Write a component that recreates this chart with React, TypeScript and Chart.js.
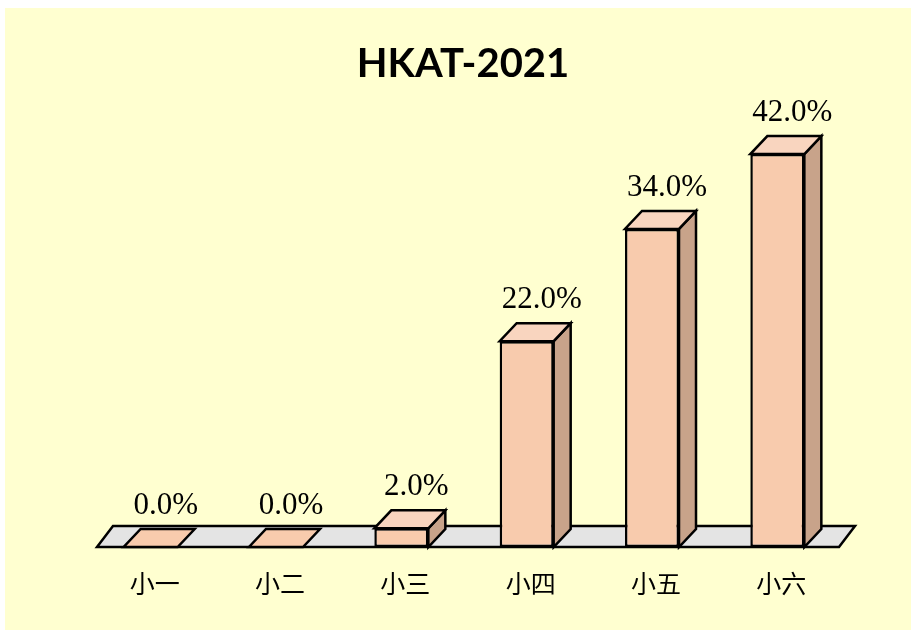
import React, { useEffect, useRef } from "react";
import { Chart, registerables } from "chart.js";

Chart.register(...registerables);

const categories = ["小一", "小二", "小三", "小四", "小五", "小六"];
const values = [0, 0, 2, 22, 34, 42];
const valueLabels = ["0.0%", "0.0%", "2.0%", "22.0%", "34.0%", "42.0%"];
const yMin = 0;
const yMax = 45;
const titleText = "HKAT-2021";

const BG = "#FFFFD0";
const FRONT = "#F8CBAD";
const TOP = "#F9D5BF";
const SIDE = "#C8A38A";
const FLOOR = "#E4E4E4";
const LINE = "#000000";
const DX = 17;
const DY = 18;
const FLOOR_DX = 16;
const FLOOR_DY = 21;

const W = 906;
const H = 622;

const threeD = {
  id: "threeD",
  beforeDraw(chart: any) {
    const ctx = chart.ctx;
    ctx.save();
    ctx.fillStyle = BG;
    ctx.fillRect(0, 0, chart.width, chart.height);
    ctx.restore();
  },
  beforeDatasetsDraw(chart: any) {
    const ctx = chart.ctx;
    const a = chart.chartArea;
    const base = chart.scales.y.getPixelForValue(0);
    const L = a.left + 9;
    const R = a.right - 1;
    ctx.save();
    ctx.beginPath();
    ctx.moveTo(L, base);
    ctx.lineTo(R, base);
    ctx.lineTo(R + FLOOR_DX, base - FLOOR_DY);
    ctx.lineTo(L + FLOOR_DX, base - FLOOR_DY);
    ctx.closePath();
    ctx.fillStyle = FLOOR;
    ctx.fill();
    ctx.lineWidth = 2.5;
    ctx.strokeStyle = LINE;
    ctx.lineJoin = "miter";
    ctx.stroke();
    ctx.restore();
  },
  afterDatasetsDraw(chart: any) {
    const ctx = chart.ctx;
    const meta = chart.getDatasetMeta(0);
    ctx.save();
    ctx.lineWidth = 2.5;
    ctx.strokeStyle = LINE;
    ctx.lineJoin = "miter";
    meta.data.forEach((bar: any, i: number) => {
      const { x, y, base, width } = bar.getProps(["x", "y", "base", "width"], true);
      const x1 = x - width / 2;
      const x2 = x + width / 2;
      // side face
      if (base - y > 0.5) {
        ctx.beginPath();
        ctx.moveTo(x2, y);
        ctx.lineTo(x2 + DX, y - DY);
        ctx.lineTo(x2 + DX, base - DY);
        ctx.lineTo(x2, base);
        ctx.closePath();
        ctx.fillStyle = SIDE;
        ctx.fill();
        ctx.stroke();
      }
      // top face
      ctx.beginPath();
      ctx.moveTo(x1, y);
      ctx.lineTo(x2, y);
      ctx.lineTo(x2 + DX, y - DY);
      ctx.lineTo(x1 + DX, y - DY);
      ctx.closePath();
      ctx.fillStyle = base - y > 0.5 ? TOP : FRONT;
      ctx.fill();
      ctx.stroke();
      // value label
      ctx.fillStyle = "#000";
      ctx.font = '31px "Liberation Serif", "Times New Roman", serif';
      ctx.textAlign = "center";
      ctx.textBaseline = "alphabetic";
      ctx.fillText(valueLabels[i], x + 15, y - DY - 15);
    });
    ctx.restore();
  },
  afterDraw(chart: any) {
    const ctx = chart.ctx;
    const xs = chart.scales.x;
    const base = chart.scales.y.getPixelForValue(0);
    ctx.save();
    ctx.fillStyle = "#000";
    ctx.textAlign = "center";
    ctx.textBaseline = "middle";
    ctx.font = '25px "Noto Sans CJK TC", "Noto Sans CJK SC", sans-serif';
    categories.forEach((c, i) => {
      ctx.fillText(c, xs.getPixelForValue(i) + 4, base + 36);
    });
    ctx.font = 'bold 40px Lato, "Open Sans", sans-serif';
    ctx.textBaseline = "alphabetic";
    ctx.fillText(titleText, 458, 69);
    ctx.restore();
  },
};

export default function App() {
  const ref = useRef<HTMLCanvasElement | null>(null);
  useEffect(() => {
    if (!ref.current) return;
    const chart = new Chart(ref.current, {
      type: "bar",
      data: {
        labels: categories,
        datasets: [
          {
            data: values,
            backgroundColor: FRONT,
            borderColor: LINE,
            borderWidth: 2.5,
            borderSkipped: false,
            barPercentage: 0.431,
            categoryPercentage: 1,
          },
        ],
      },
      options: {
        responsive: false,
        animation: false,
        devicePixelRatio: 1,
        layout: { padding: { left: 83, right: 71, top: 118, bottom: 83 } },
        plugins: {
          legend: { display: false },
          title: { display: false },
          tooltip: { enabled: false },
        },
        scales: {
          x: { display: false, offset: true, grid: { display: false } },
          y: { display: false, min: yMin, max: yMax },
        },
      },
      plugins: [threeD],
    });
    return () => chart.destroy();
  }, []);
  return (
    <div style={{ position: "absolute", left: 5, top: 8 }}>
      <canvas ref={ref} width={W} height={H} style={{ display: "block", width: W, height: H }} />
    </div>
  );
}
